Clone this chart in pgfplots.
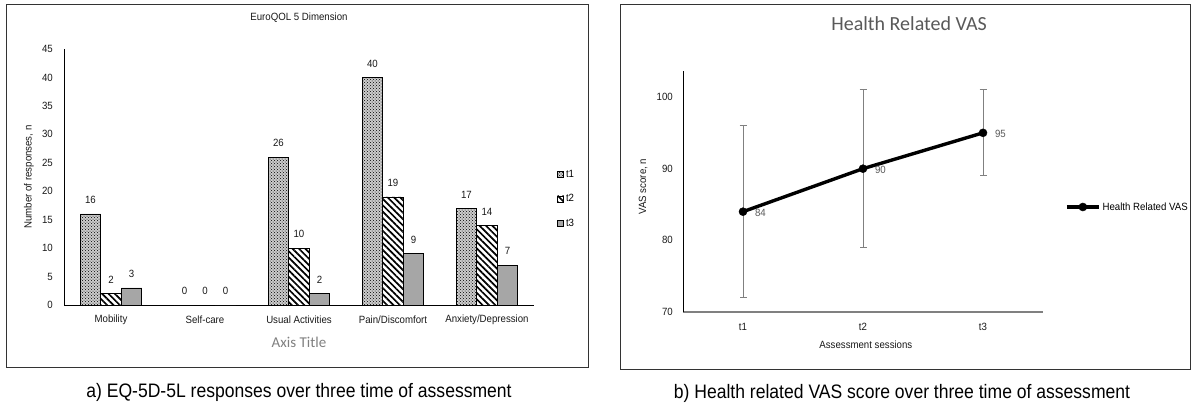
\documentclass[border=0pt]{standalone}
\usepackage{fontspec}
\setmainfont{Liberation Sans}[FakeStretch=0.92]
\newfontfamily\calib{Carlito}
\newfontfamily\capfont{Liberation Sans}[FakeStretch=0.9]
\usepackage{pgfplots}
\pgfplotsset{compat=1.18}
\usetikzlibrary{patterns,patterns.meta}
\definecolor{tgray}{HTML}{595959}
\definecolor{bgray}{HTML}{A6A6A6}
\definecolor{egray}{HTML}{808080}
\pgfplotsset{/pgf/number format/assume math mode=true}
\newcommand{\tfont}{\fontsize{10.5}{12}\selectfont}
\begin{document}
\begin{tikzpicture}
\useasboundingbox (0pt,0pt) rectangle (1192pt,408pt);
\fill[white] (0pt,0pt) rectangle (1192pt,408pt);
\draw[black!80, line width=1pt] (6pt,41pt) rectangle (588pt,403pt);
\draw[black!80, line width=1pt] (620pt,39pt) rectangle (1190pt,403pt);

\begin{axis}[
  at={(64pt,103pt)}, anchor=south west,
  scale only axis, width=470pt, height=256pt,
  xmin=-0.5, xmax=4.5, ymin=0, ymax=45,
  ybar, bar width=20.5pt,
  axis x line=bottom, axis y line=left,
  axis line style={-, black, line width=0.9pt},
  xtick={0,...,4},
  xticklabels={Mobility,Self-care,Usual Activities,Pain/Discomfort,Anxiety/Depression},
  ytick={0,5,...,45},
  major tick length=0pt,
  tick label style={font=\tfont, text=black!90},
  xticklabel style={anchor=center, yshift=-15pt},
  yticklabel style={anchor=east, inner sep=0pt, xshift=-11pt},
  title={EuroQOL 5 Dimension},
  title style={at={(axis description cs:0.5,1.0977)}, anchor=center, font=\tfont, text=black!90},
  xlabel={Axis Title},
  xlabel style={at={(axis description cs:0.5,-0.1445)}, anchor=center, font=\calib\fontsize{15}{18}\selectfont, text=egray},
  ylabel={Number of responses, n},
  ylabel style={at={(axis description cs:-0.0745,0.5)}, anchor=center, font=\tfont, text=black!90},
  nodes near coords,
  nodes near coords style={font=\tfont, text=black!90, yshift=6.5pt},
  legend style={at={(1.049,0.414)}, anchor=west, draw=none, fill=none, inner sep=0pt, font=\tfont, row sep=12pt, cells={anchor=west}},
  legend image code/.code={\draw[#1] (0pt,-3pt) rectangle (6pt,3pt);},
]
\addplot[bar shift=-20.5pt, draw=black, line width=0.8pt, fill=black!20, postaction={pattern=crosshatch dots, pattern color=black}]
  coordinates {(0,16) (1,0) (2,26) (3,40) (4,17)};
\addplot[bar shift=0pt, draw=black, line width=0.8pt, pattern={Lines[angle=-45,distance=4.5pt,line width=1.7pt]}]
  coordinates {(0,2) (1,0) (2,10) (3,19) (4,14)};
\addplot[bar shift=20.5pt, draw=black, line width=0.8pt, fill=bgray]
  coordinates {(0,3) (1,0) (2,2) (3,9) (4,7)};
\legend{t1,t2,t3}
\end{axis}

\begin{axis}[
  at={(683pt,96pt)}, anchor=south west,
  scale only axis, width=360pt, height=241pt,
  xmin=0.5, xmax=3.5, ymin=70, ymax=103.63,
  axis x line=bottom, axis y line=left,
  x axis line style={-, egray, line width=1.5pt},
  y axis line style={-, black, line width=0.8pt},
  xtick={1,2,3}, xticklabels={t1,t2,t3},
  ytick={70,80,90,100},
  major tick length=0pt,
  tick label style={font=\tfont, text=black!90},
  xticklabel style={anchor=center, yshift=-15pt},
  yticklabel style={anchor=east, inner sep=0pt, xshift=-10pt},
  title={Health Related VAS},
  title style={at={(axis description cs:0.628,1.170)}, anchor=center, font=\calib\fontsize{20}{24}\selectfont, text=tgray},
  xlabel={Assessment sessions},
  xlabel style={at={(axis description cs:0.508,-0.137)}, anchor=center, font=\tfont, text=black!90},
  ylabel={VAS score, n},
  ylabel style={at={(axis description cs:-0.111,0.52)}, anchor=center, font=\tfont, text=black!90},
  legend style={at={(1.061,0.4357)}, anchor=west, draw=none, fill=none, inner sep=0pt, font=\tfont, cells={anchor=west}},
  legend image code/.code={\draw[#1, mark repeat=2, mark phase=2] plot coordinates {(0pt,0pt) (16pt,0pt) (32pt,0pt)};},
]
\addplot[black, line width=3.4pt, mark=*, mark size=4pt, mark options={solid, fill=black, line width=0.5pt},
  nodes near coords, nodes near coords align=horizontal,
  nodes near coords style={font=\tfont, text=tgray, xshift=8.5pt, yshift=-1pt},
  error bars/.cd, y dir=both, y explicit,
  error bar style={egray, line width=0.9pt},
  error mark options={egray, line width=0.9pt, mark size=3.5pt, rotate=90}]
  coordinates {(1,84) +- (0,12) (2,90) +- (0,11) (3,95) +- (0,6)};
\legend{Health Related VAS}
\end{axis}

\node[font=\capfont\fontsize{19.5}{22}\selectfont, text=black] at (299pt,16pt) {a) EQ-5D-5L responses over three time of assessment};
\node[font=\capfont\fontsize{19.5}{22}\selectfont, text=black] at (902pt,15pt) {b) Health related VAS score over three time of assessment};
\end{tikzpicture}
\end{document}
